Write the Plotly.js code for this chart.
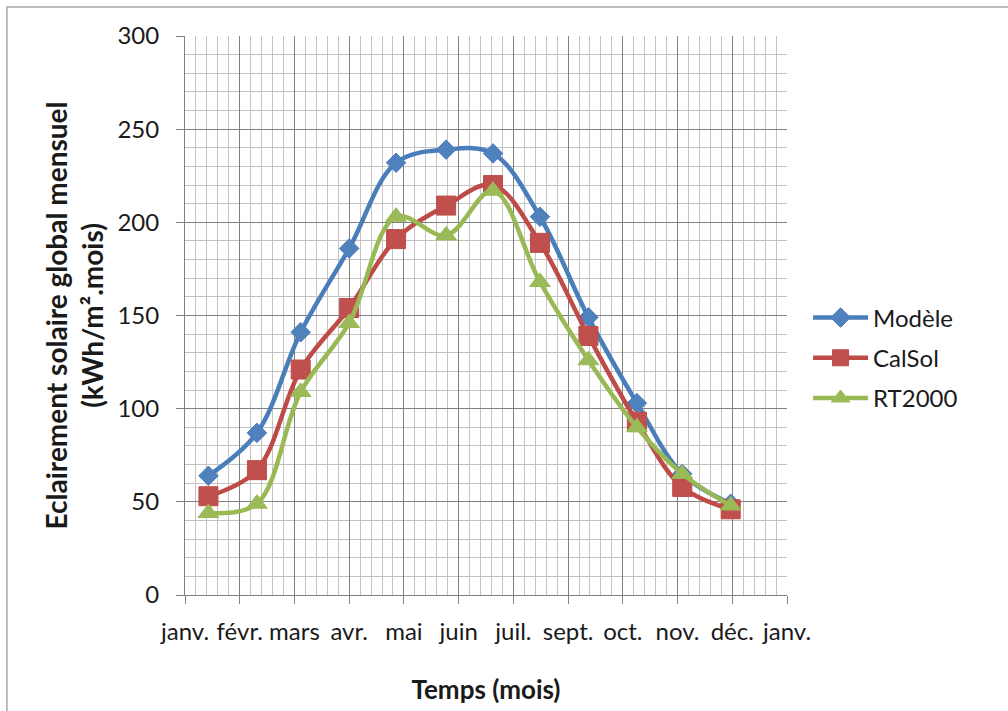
<!DOCTYPE html>
<html>
<head>
<meta charset="utf-8">
<script src="https://cdn.plot.ly/plotly-3.0.1.min.js"></script>
<style>html,body{margin:0;padding:0;background:#fff;}#chart{width:1008px;height:711px;}</style>
</head>
<body>
<div id="chart"></div>
<script>
// Data (monthly, mid-month dates)
const monthDates = ['2013-01-16','2013-02-16','2013-03-16','2013-04-16','2013-05-16','2013-06-17',
                    '2013-07-17','2013-08-16','2013-09-16','2013-10-17','2013-11-15','2013-12-16'];
const modele = [64, 87, 141, 186, 232, 239, 237, 203, 149, 103, 65, 49];
const calsol = [53, 67, 121, 154, 191, 209, 220, 189, 139, 93, 58, 46];
const rt2000 = [44, 49, 109, 146, 203, 193, 217, 168, 126, 90, 65, 48];
const seriesNames = ['Modèle', 'CalSol', 'RT2000'];

// Axis ticks (35-day major unit, as in the source chart)
const tickDates = ['2013-01-01','2013-02-05','2013-03-12','2013-04-16','2013-05-21','2013-06-25',
                   '2013-07-30','2013-09-03','2013-10-08','2013-11-12','2013-12-17','2014-01-21'];
const tickLabels = ['janv.','févr.','mars','avr.','mai','juin','juil.','sept.','oct.','nov.','déc.','janv.'];

const FONT = 'Lato, "Open Sans", "DejaVu Sans", sans-serif';
const colors = {
  modele: {line:'#4A7EBB', fill:'#4F81BD'},
  calsol: {line:'#BE4B48', fill:'#C0504D'},
  rt2000: {line:'#98B954', fill:'#9BBB59'}
};

function tr(name, y, c, symbol, size, grp) {
  return {
    type:'scatter', mode:'lines+markers', name:name, x:monthDates, y:y,
    legendgroup: grp,
    line:{color:c.line, width:4.5, shape:'spline', smoothing:1},
    marker:{symbol:symbol, size:size, color:c.fill, line:{color:c.line, width:1}}
  };
}

const data = [
  tr(seriesNames[0], modele, colors.modele, 'diamond', 15, 'g1'),
  tr(seriesNames[1], calsol, colors.calsol, 'square', 19, 'g2'),
  tr(seriesNames[2], rt2000, colors.rt2000, 'triangle-up', 18, 'g3')
];

const layout = {
  width:1008, height:711,
  margin:{l:185, r:221, t:36, b:116},
  paper_bgcolor:'#ffffff', plot_bgcolor:'#ffffff',
  font:{family:FONT, size:24, color:'#1a1a1a'},
  showlegend:true,
  legend:{x:1.035, y:0.424, xanchor:'left', yanchor:'middle', font:{size:24, color:'#1a1a1a'},
          tracegroupgap:6, itemwidth:55, bgcolor:'rgba(0,0,0,0)'},
  xaxis:{
    type:'date', range:['2013-01-01','2014-01-21'],
    tickmode:'array', tickvals:tickDates, ticktext:tickLabels,
    showgrid:true, gridcolor:'#808080', gridwidth:1,
    minor:{tickmode:'linear', tick0:'2013-01-01', dtick:7*86400000, showgrid:true, gridcolor:'#c4c4c4', gridwidth:1, ticks:''},
    showline:true, linecolor:'#808080', linewidth:1,
    ticks:'outside', ticklen:8, tickcolor:'#808080', tickwidth:1,
    ticklabelstandoff:7,
    zeroline:false, fixedrange:true,
    title:{text:'Temps (mois)', font:{family:FONT, size:26, weight:'bold', color:'#1a1a1a'}, standoff:37}
  },
  yaxis:{
    range:[0,300], tickmode:'linear', tick0:0, dtick:50,
    showgrid:true, gridcolor:'#808080', gridwidth:1,
    minor:{tickmode:'linear', tick0:0, dtick:10, showgrid:true, gridcolor:'#c4c4c4', gridwidth:1, ticks:''},
    showline:true, linecolor:'#808080', linewidth:1,
    ticks:'outside', ticklen:8, tickcolor:'#808080', tickwidth:1,
    ticklabelstandoff:12,
    zeroline:false, fixedrange:true,
    title:{text:'Eclairement solaire global mensuel<br>(kWh/m².mois)', font:{family:FONT, size:28, weight:'bold', color:'#1a1a1a'}, standoff:5}
  },
  shapes:[{
    type:'rect', xref:'paper', yref:'paper',
    x0:(7-185)/601.7, x1:(1020-185)/601.7, y0:-0.3, y1:(595-7)/559,
    line:{color:'#a6a6a6', width:1.5}, fillcolor:'rgba(0,0,0,0)', layer:'below'
  }]
};

Plotly.newPlot('chart', data, layout, {displayModeBar:false, staticPlot:true});
</script>
</body>
</html>
